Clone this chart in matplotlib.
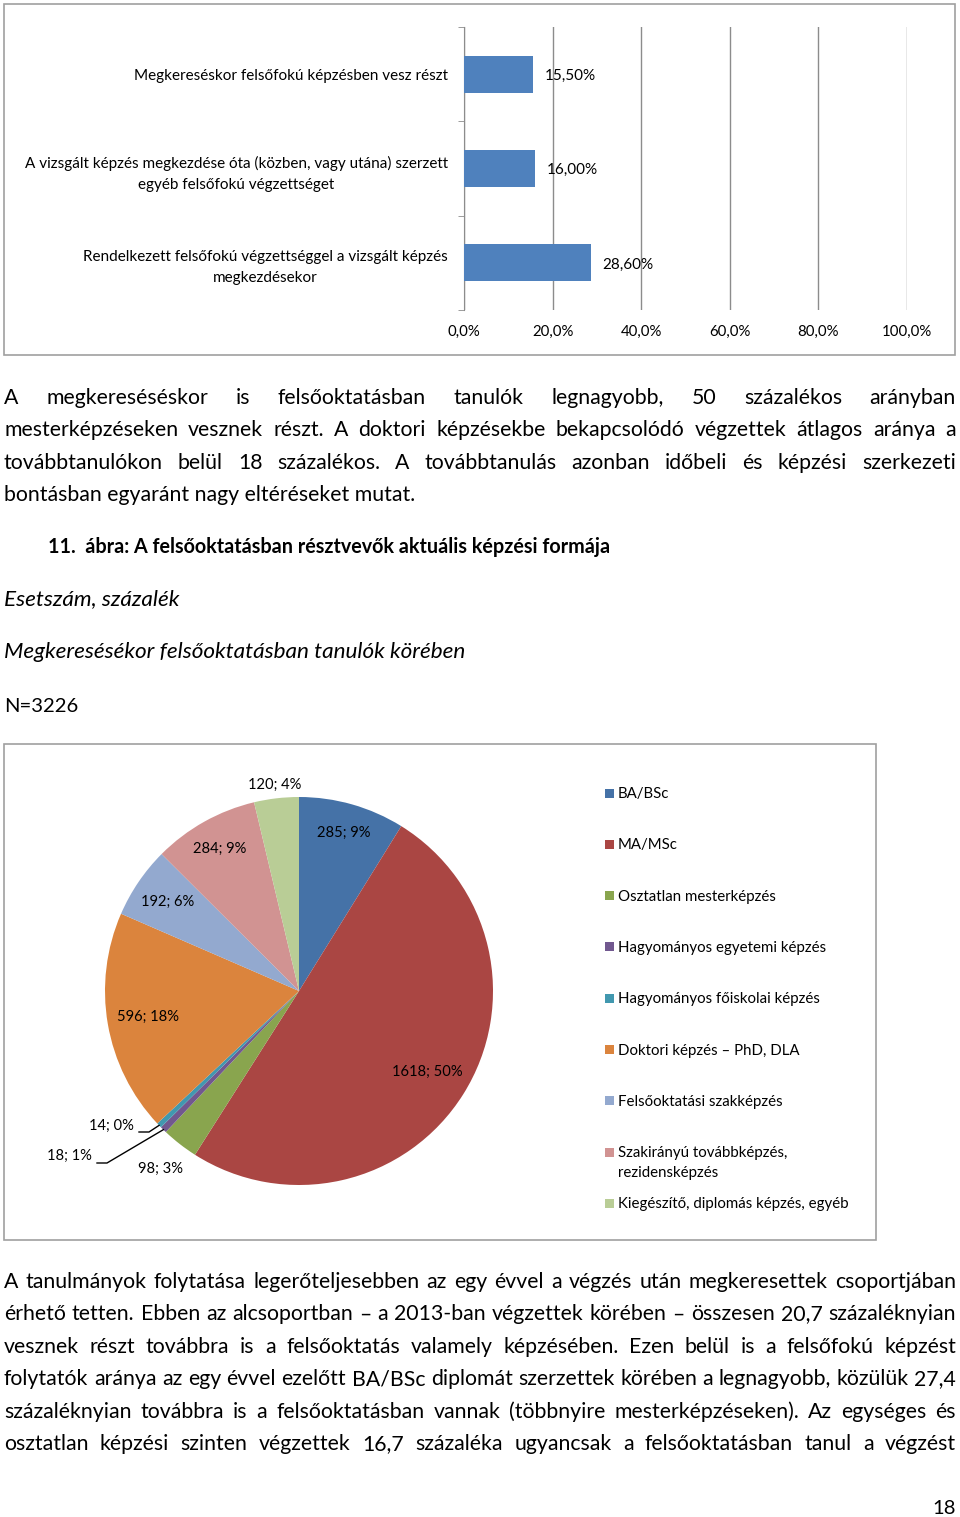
import numpy as np
import matplotlib
matplotlib.use("Agg")
import matplotlib.pyplot as plt
from matplotlib.patches import Rectangle

plt.rcParams['font.family'] = ['Lato', 'DejaVu Sans']

W, H = 960, 1517

# bar chart data (bottom to top)
bar_labels = ["Rendelkezett felsőfokú végzettséggel a vizsgált képzés\nmegkezdésekor",
              "A vizsgált képzés megkezdése óta (közben, vagy utána) szerzett\negyéb felsőfokú végzettséget",
              "Megkereséskor felsőfokú képzésben vesz részt"]
bar_values = [28.6, 16.0, 15.5]
bar_value_text = ["28,60%", "16,00%", "15,50%"]
x_ticks = [0, 20, 40, 60, 80, 100]
x_tick_labels = ["0,0%", "20,0%", "40,0%", "60,0%", "80,0%", "100,0%"]

# pie chart data (clockwise from the top)
pie_categories = ["BA/BSc", "MA/MSc", "Osztatlan mesterképzés", "Hagyományos egyetemi képzés",
                  "Hagyományos főiskolai képzés", "Doktori képzés – PhD, DLA",
                  "Felsőoktatási szakképzés", "Szakirányú továbbképzés,\nrezidensképzés",
                  "Kiegészítő, diplomás képzés, egyéb"]
pie_counts = [285, 1618, 98, 18, 14, 596, 192, 284, 120]
pie_pcts = [9, 50, 3, 1, 0, 18, 6, 9, 4]
pie_colors = ["#4572A7", "#AA4643", "#89A54E", "#71588F", "#4198AF",
              "#DB843D", "#93A9CF", "#D19392", "#B9CD96"]

para1 = ["A megkereséséskor is felsőoktatásban tanulók legnagyobb, 50 százalékos arányban",
         "mesterképzéseken vesznek részt. A doktori képzésekbe bekapcsolódó végzettek átlagos aránya a",
         "továbbtanulókon belül 18 százalékos. A továbbtanulás azonban időbeli és képzési szerkezeti",
         "bontásban egyaránt nagy eltéréseket mutat."]
para2 = ["A tanulmányok folytatása legerőteljesebben az egy évvel a végzés után megkeresettek csoportjában",
         "érhető tetten. Ebben az alcsoportban – a 2013-ban végzettek körében – összesen 20,7 százaléknyian",
         "vesznek részt továbbra is a felsőoktatás valamely képzésében. Ezen belül is a felsőfokú képzést",
         "folytatók aránya az egy évvel ezelőtt BA/BSc diplomát szerzettek körében a legnagyobb, közülük 27,4",
         "százaléknyian továbbra is a felsőoktatásban vannak (többnyire mesterképzéseken). Az egységes és",
         "osztatlan képzési szinten végzettek 16,7 százaléka ugyancsak a felsőoktatásban tanul a végzést"]

BODY = 15.3
CHART = 11


def fig_rect(x0, y0, x1, y1):
    return [x0 / W, 1 - y1 / H, (x1 - x0) / W, (y1 - y0) / H]


fig = plt.figure(figsize=(W / 100, H / 100), dpi=100)
bg = fig.add_axes([0, 0, 1, 1])
bg.set_xlim(0, W)
bg.set_ylim(H, 0)
bg.axis('off')

# chart frames
bg.add_patch(Rectangle((4, 4), 951, 351, fill=False, ec='#a0a0a0', lw=1.2))
bg.add_patch(Rectangle((4, 744), 872, 496, fill=False, ec='#a0a0a0', lw=1.2))

# ---- bar chart ----
ax = fig.add_axes(fig_rect(464, 27, 907, 310))
y = np.arange(len(bar_values))
ax.barh(y, bar_values, height=0.39, color='#4F81BD', zorder=3)
ax.set_xlim(0, 100)
ax.set_ylim(-0.5, 2.5)
ax.set_xticks(x_ticks)
ax.set_xticklabels(x_tick_labels)
ax.xaxis.grid(True, color='#8c8c8c', lw=1)
ax.set_axisbelow(True)
for s in ['top', 'right', 'bottom']:
    ax.spines[s].set_visible(False)
ax.spines['left'].set_color('#8c8c8c')
ax.tick_params(axis='x', length=0, pad=11, labelsize=10.8)
ax.set_yticks(y)
ax.set_yticklabels(bar_labels, ma='center', fontsize=CHART, linespacing=1.65)
ax.tick_params(axis='y', which='major', length=0, pad=11.5)
ax.set_yticks([-0.5, 0.5, 1.5, 2.5], minor=True)
ax.tick_params(axis='y', which='minor', length=4, color='#8c8c8c')
for i, v in enumerate(bar_values):
    ax.annotate(bar_value_text[i], (v, i), xytext=(8.6, -1.2), textcoords='offset points',
                va='center', ha='left', fontsize=CHART)

# ---- pie chart ----
R = 194
L = 250 / R
pax = fig.add_axes(fig_rect(299 - 250, 991 - 250, 299 + 250, 991 + 250))
wedges, _ = pax.pie(pie_counts, colors=pie_colors, startangle=90, counterclock=False,
                    radius=1, wedgeprops=dict(linewidth=0))
pax.set_xlim(-L, L)
pax.set_ylim(-L, L)
pax.axis('off')
label_r = [0.85, 0.78, 1.16, None, None, 0.79, 0.82, 0.84, 1.07]
for i, w in enumerate(wedges):
    txt = f"{pie_counts[i]}; {pie_pcts[i]}%"
    mid = np.deg2rad((w.theta1 + w.theta2) / 2)
    if label_r[i] is not None:
        pax.text(label_r[i] * np.cos(mid), label_r[i] * np.sin(mid), txt,
                 ha='center', va='center', fontsize=10.6)
    else:
        ex, ey = np.cos(mid), np.sin(mid)
        if i == 3:
            tx, ty, ly = (92 - 299) / R, -(1156 - 991) / R, -(1163 - 991) / R
        else:
            tx, ty, ly = (134 - 299) / R, -(1126 - 991) / R, -(1132 - 991) / R
        pax.text(tx, ty, txt, ha='right', va='center', fontsize=10.6)
        pax.plot([tx + 5 / R, tx + 15 / R, ex], [ly, ly, ey], color='black', lw=1)

# legend
for i, (cat, col) in enumerate(zip(pie_categories, pie_colors)):
    ry = 793 + 51.3 * i
    bg.add_patch(Rectangle((605, ry - 4.5), 9, 9, color=col, lw=0))
    bg.text(618, ry - 6, cat, ha='left', va='top', fontsize=10.8, linespacing=1.5)

# ---- body text ----
renderer = fig.canvas.get_renderer()


def put_line(y, text, x0=4, x1=956, size=BODY, justify=True, **kw):
    if not justify:
        bg.text(x0, y, text, ha='left', va='baseline', fontsize=size, **kw)
        return
    words = text.split(' ')
    arts = [bg.text(0, y, wd, ha='left', va='baseline', fontsize=size, **kw) for wd in words]
    widths = [a.get_window_extent(renderer).width for a in arts]
    gap = (x1 - x0 - sum(widths)) / (len(words) - 1)
    x = x0
    for a, wd in zip(arts, widths):
        a.set_x(x)
        x += wd + gap


for k, line in enumerate(para1):
    put_line(404 + 32.3 * k, line, justify=(k < len(para1) - 1))

bg.text(48, 553, "11.  ábra: A felsőoktatásban résztvevők aktuális képzési formája",
        ha='left', va='baseline', fontsize=14.2, fontweight='bold')
bg.text(4, 605, "Esetszám, százalék", ha='left', va='baseline', fontsize=16.2, style='italic')
bg.text(4, 658, "Megkeresésékor felsőoktatásban tanulók körében", ha='left', va='baseline',
        fontsize=16.2, style='italic')
bg.text(4, 712, "N=3226", ha='left', va='baseline', fontsize=14.6)

for k, line in enumerate(para2):
    put_line(1288 + 32.4 * k, line)

bg.text(956, 1514, "18", ha='right', va='baseline', fontsize=14.6)

fig.savefig("out.png", dpi=100)
